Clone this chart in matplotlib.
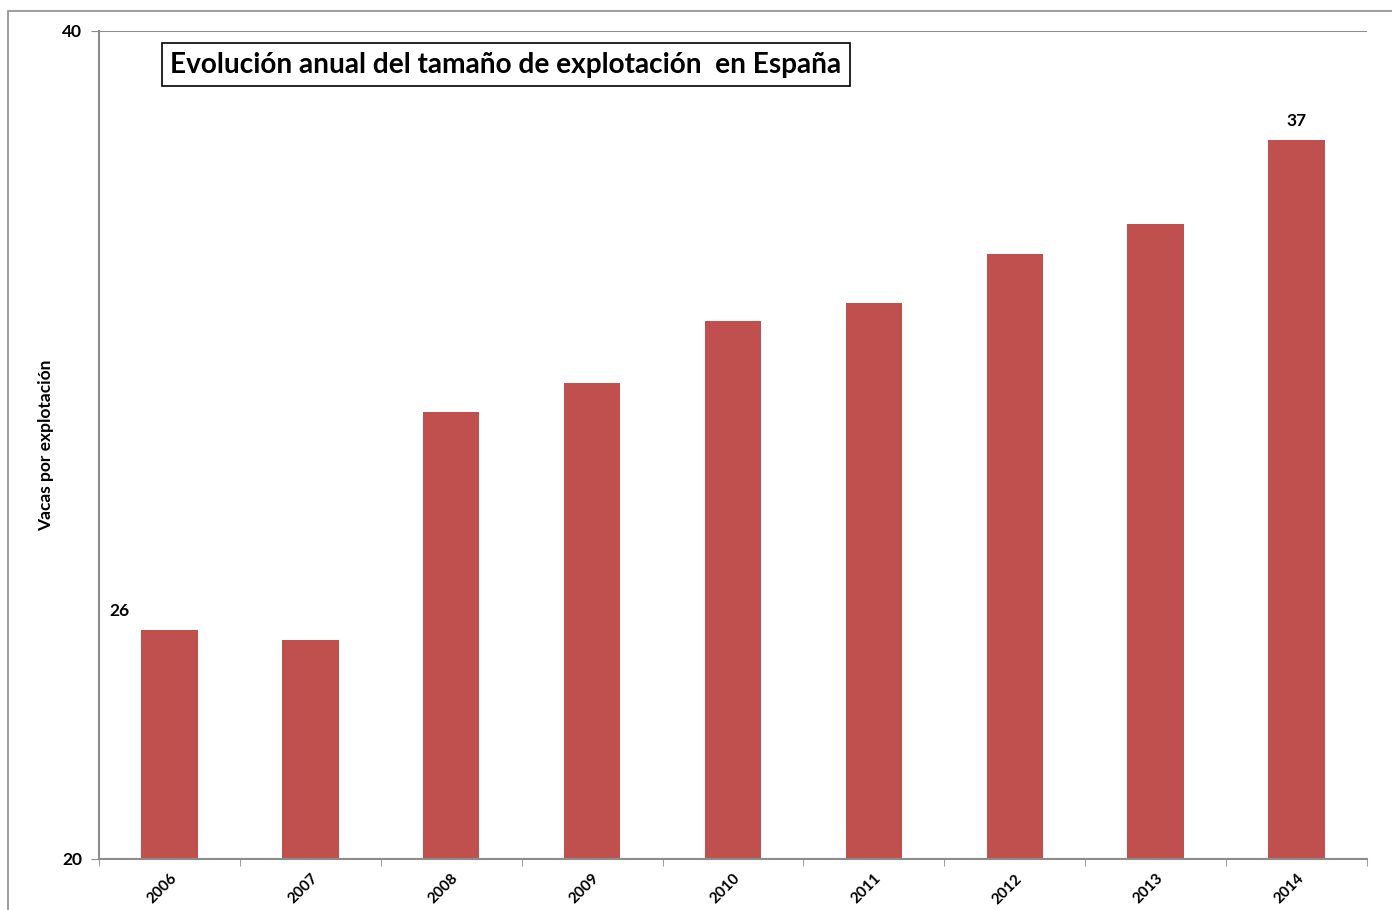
import matplotlib.pyplot as plt
from matplotlib.patches import Rectangle

years = ["2006", "2007", "2008", "2009", "2010", "2011", "2012", "2013", "2014"]
cows_per_farm = [25.53, 25.29, 30.80, 31.50, 33.00, 33.43, 34.61, 35.34, 37.37]
labelled = {0: "26", 8: "37"}

plt.rcParams['font.family'] = ['Lato', 'DejaVu Sans']

fig = plt.figure(figsize=(13.92, 9.10), dpi=100)
ax = fig.add_axes([99 / 1392, 51 / 910, 1268 / 1392, 828 / 910])

# outer chart frame
fig.patches.append(Rectangle((8 / 1392, -0.1), 1.2, 1.1 - 11 / 910,
                             transform=fig.transFigure, fill=False,
                             edgecolor="#8c8c8c", linewidth=1.2))

x = range(len(years))
ax.bar(x, cows_per_farm, width=0.4, color="#C0504D", zorder=2)

ax.set_xlim(-0.5, len(years) - 0.5)
ax.set_ylim(20, 40)
ax.set_yticks([20, 40])
ax.set_yticklabels(["20", "40"], fontsize=12.5, fontweight="bold")
ax.yaxis.grid(True, color="#8c8c8c", linewidth=1.5, zorder=0)

ax.set_xticks(list(x))
ax.set_xticklabels(years, rotation=45, fontsize=11, fontweight="bold",
                   ha="right", va="top", rotation_mode="anchor")
ax.tick_params(axis="x", length=0, pad=9)
ax.set_xticks([i + 0.5 for i in range(-1, len(years))], minor=True)
ax.tick_params(axis="x", which="minor", length=5, color="#8c8c8c")
ax.tick_params(axis="y", length=6, color="#8c8c8c", pad=6)

for side in ["top", "right"]:
    ax.spines[side].set_visible(False)
for side in ["left", "bottom"]:
    ax.spines[side].set_color("#8c8c8c")
    ax.spines[side].set_linewidth(1.5)

ax.set_ylabel("Vacas por explotación", fontsize=12.5, fontweight="bold")
ax.yaxis.set_label_coords(-(99 - 54) / 1268, 0.5)

for i, txt in labelled.items():
    dx = -36 if i == 0 else 0
    ax.annotate(txt, (i, cows_per_farm[i]), xytext=(dx, 8),
                textcoords="offset points", ha="center", va="bottom",
                fontsize=12.5, fontweight="bold")

ax.text(0.056, 0.975, "Evolución anual del tamaño de explotación  en España",
        transform=ax.transAxes, ha="left", va="top", fontsize=20.2,
        fontweight="bold",
        bbox=dict(boxstyle="square,pad=0.3", facecolor="white",
                  edgecolor="black", linewidth=1.2))

fig.savefig("out.png", dpi=100)
